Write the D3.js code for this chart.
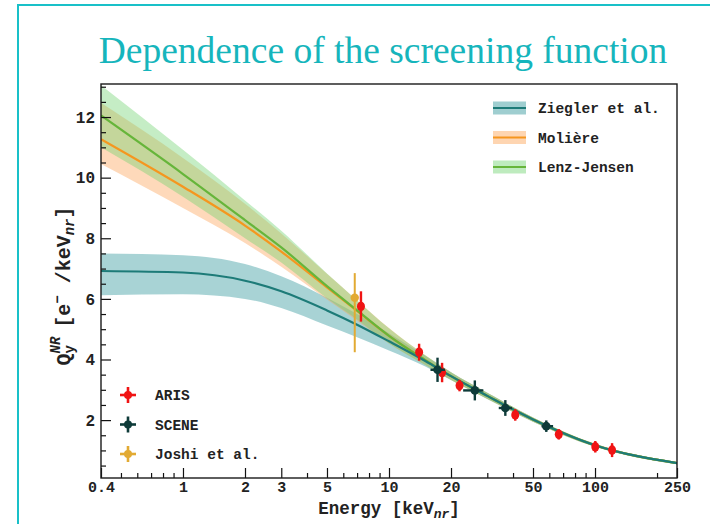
<!DOCTYPE html>
<html>
<head>
<meta charset="utf-8">
<script src="https://cdn.jsdelivr.net/npm/d3@7"></script>
<style>
  body { margin: 0; background: #fff; }
  svg { display: block; }
</style>
</head>
<body>
<svg id="chart" width="710" height="524"></svg>
<script>
// Model curves: nuclear-recoil ionization yield vs. energy, with uncertainty bands
const energies   = [0.4, 1, 2, 3, 5, 7, 10, 15, 20, 30, 50, 100, 250];
const zieglerMid = [6.92, 6.87, 6.6, 6.25, 5.62, 5.15, 4.6, 3.95, 3.45, 2.8, 2.02, 1.17, 0.58];
const zieglerLo  = [6.12, 6.15, 6.0, 5.70, 5.12, 4.73, 4.30, 3.77, 3.32, 2.70, 1.95, 1.12, 0.54];
const zieglerHi  = [7.50, 7.44, 7.15, 6.75, 6.04, 5.50, 4.87, 4.12, 3.58, 2.90, 2.09, 1.22, 0.62];
const moliereMid = [11.27, 9.7, 8.42, 7.56, 6.38, 5.6, 4.78, 3.98, 3.45, 2.8, 2.02, 1.17, 0.58];
const moliereLo  = [10.45, 9.0, 7.84, 7.06, 5.98, 5.28, 4.53, 3.82, 3.32, 2.70, 1.95, 1.12, 0.54];
const moliereHi  = [12.47, 10.65, 9.14, 8.16, 6.83, 5.95, 5.04, 4.14, 3.58, 2.90, 2.09, 1.22, 0.62];
const lenzMid    = [12.05, 10.12, 8.6, 7.7, 6.42, 5.62, 4.78, 3.98, 3.45, 2.8, 2.02, 1.17, 0.58];
const lenzLo     = [11.0, 9.37, 8.0, 7.2, 6.02, 5.32, 4.53, 3.82, 3.32, 2.70, 1.95, 1.12, 0.54];
const lenzHi     = [13.05, 10.92, 9.25, 8.25, 6.84, 5.95, 5.03, 4.14, 3.58, 2.90, 2.09, 1.22, 0.62];

// Measurements
const arisEnergy = [7.31, 14.0, 18.1, 22.0, 41.0, 66.7, 100.3, 121];
const arisValue  = [5.75, 4.24, 3.57, 3.14, 2.17, 1.53, 1.12, 1.01];
const arisError  = [0.5, 0.28, 0.32, 0.19, 0.19, 0.17, 0.19, 0.23];

const sceneEnergy   = [17.2, 26.1, 36.7, 58.0];
const sceneEnergyLo = [15.9, 22.9, 34.1, 55.0];
const sceneEnergyHi = [18.7, 28.7, 39.6, 62.6];
const sceneValue    = [3.66, 2.98, 2.40, 1.80];
const sceneError    = [0.4, 0.33, 0.26, 0.19];

const joshiEnergy  = [6.82];
const joshiValue   = [6.04];
const joshiValueLo = [4.24];
const joshiValueHi = [6.85];

// Axis ticks
const xMajor = [0.4, 1, 2, 3, 5, 10, 20, 50, 100, 250];
const xMinor = [0.5, 0.6, 0.7, 0.8, 0.9, 4, 6, 7, 8, 9, 30, 40, 60, 70, 80, 90, 200];
const yMajor = [2, 4, 6, 8, 10, 12];
const yMinor = [0.5, 1, 1.5, 2.5, 3, 3.5, 4.5, 5, 5.5, 6.5, 7, 7.5, 8.5, 9, 9.5, 10.5, 11, 11.5, 12.5, 13];

const modelNames = ["Ziegler et al.", "Molière", "Lenz-Jensen"];
const dataNames  = ["ARIS", "SCENE", "Joshi et al."];

const svg = d3.select("#chart");
const W = 710, H = 524;
const plot = { left: 101, right: 677, top: 84, bottom: 478 };

// Slide frame and title
svg.append("rect").attr("width", W).attr("height", H).attr("fill", "#fff");
svg.append("path")
  .attr("d", `M18,${H + 2} L18,5 L${W + 2},5`)
  .attr("fill", "none").attr("stroke", "#19c0c8").attr("stroke-width", 2);
svg.append("text")
  .attr("x", 383).attr("y", 63)
  .attr("text-anchor", "middle")
  .attr("font-family", "'Liberation Serif', 'Times New Roman', serif")
  .attr("font-size", 37.5)
  .attr("fill", "#16b5bc")
  .text("Dependence of the screening function");

const x = d3.scaleLog().domain([0.4, 250]).range([plot.left, plot.right]);
const y = d3.scaleLinear().domain([0.09, 13.09]).range([plot.bottom, plot.top]);

svg.append("defs").append("clipPath").attr("id", "plotClip")
  .append("rect").attr("x", plot.left).attr("y", plot.top)
  .attr("width", plot.right - plot.left).attr("height", plot.bottom - plot.top);

const g = svg.append("g").attr("clip-path", "url(#plotClip)");

function rows(mid, lo, hi) {
  return energies.map((e, i) => ({ e, m: mid[i], lo: lo[i], hi: hi[i] }));
}
const models = [
  { name: modelNames[0], data: rows(zieglerMid, zieglerLo, zieglerHi), line: "#1d7b78", band: "#3f9ea2", op: 0.45 },
  { name: modelNames[1], data: rows(moliereMid, moliereLo, moliereHi), line: "#f5961f", band: "#fca55a", op: 0.42 },
  { name: modelNames[2], data: rows(lenzMid, lenzLo, lenzHi), line: "#66b53a", band: "#6fd36f", op: 0.4 }
];

const area = d3.area().x(d => x(d.e)).y0(d => y(d.lo)).y1(d => y(d.hi)).curve(d3.curveMonotoneX);
const line = d3.line().x(d => x(d.e)).y(d => y(d.m)).curve(d3.curveMonotoneX);

models.forEach(m => {
  g.append("path").attr("d", area(m.data)).attr("fill", m.band).attr("fill-opacity", m.op);
});
[models[1], models[2], models[0]].forEach(m => {
  g.append("path").attr("d", line(m.data)).attr("fill", "none")
    .attr("stroke", m.line).attr("stroke-width", 2.2);
});

// Error bar markers
function vbar(sel, cx, y0, y1, color, w) {
  sel.append("line").attr("x1", cx).attr("x2", cx).attr("y1", y0).attr("y2", y1)
    .attr("stroke", color).attr("stroke-width", w);
}
function hbar(sel, cy, x0, x1, color, w) {
  sel.append("line").attr("x1", x0).attr("x2", x1).attr("y1", cy).attr("y2", cy)
    .attr("stroke", color).attr("stroke-width", w);
}

const joshiColor = "#e2aa33", arisColor = "#f01414", sceneColor = "#0e3b39";

joshiEnergy.forEach((e, i) => {
  vbar(g, x(e), y(joshiValueLo[i]), y(joshiValueHi[i]), joshiColor, 2);
  g.append("circle").attr("cx", x(e)).attr("cy", y(joshiValue[i])).attr("r", 4.2).attr("fill", joshiColor);
});
arisEnergy.forEach((e, i) => {
  vbar(g, x(e), y(arisValue[i] - arisError[i]), y(arisValue[i] + arisError[i]), arisColor, 2.4);
  g.append("ellipse").attr("cx", x(e)).attr("cy", y(arisValue[i])).attr("rx", 4).attr("ry", 4.8).attr("fill", arisColor);
});
sceneEnergy.forEach((e, i) => {
  vbar(g, x(e), y(sceneValue[i] - sceneError[i]), y(sceneValue[i] + sceneError[i]), sceneColor, 2.4);
  hbar(g, y(sceneValue[i]), x(sceneEnergyLo[i]), x(sceneEnergyHi[i]), sceneColor, 2.4);
  g.append("circle").attr("cx", x(e)).attr("cy", y(sceneValue[i])).attr("r", 4.3).attr("fill", sceneColor);
});

// Axes with inward ticks
const mono = "'Liberation Mono', 'DejaVu Sans Mono', monospace";

const xAxis = svg.append("g").attr("transform", `translate(0,${plot.bottom})`)
  .call(d3.axisBottom(x).tickValues(xMajor).tickSize(-10).tickPadding(3)
    .tickFormat((d, i) => xMajor[i] === 0.4 ? "0.4" : String(d)));
svg.append("g").attr("transform", `translate(0,${plot.bottom})`)
  .call(d3.axisBottom(x).tickValues(xMinor).tickSize(-5).tickFormat(""));
const yAxis = svg.append("g").attr("transform", `translate(${plot.left},0)`)
  .call(d3.axisLeft(y).tickValues(yMajor).tickSize(-10).tickPadding(6).tickFormat(d3.format("d")));
svg.append("g").attr("transform", `translate(${plot.left},0)`)
  .call(d3.axisLeft(y).tickValues(yMinor).tickSize(-5).tickFormat(""));

svg.selectAll(".domain").remove();
svg.selectAll(".tick line").attr("stroke", "#111").attr("stroke-width", 1.2);
xAxis.selectAll("text").attr("font-family", mono).attr("font-size", 15).attr("font-weight", "bold").attr("fill", "#222");
yAxis.selectAll("text").attr("font-family", mono).attr("font-size", 16).attr("font-weight", "bold").attr("fill", "#222");

svg.append("rect")
  .attr("x", plot.left).attr("y", plot.top)
  .attr("width", plot.right - plot.left).attr("height", plot.bottom - plot.top)
  .attr("fill", "none").attr("stroke", "#1a1a1a").attr("stroke-width", 1.4);

// Axis titles
const xt = svg.append("text").attr("x", (plot.left + plot.right) / 2).attr("y", 514)
  .attr("text-anchor", "middle").attr("font-family", mono).attr("font-weight", "bold")
  .attr("font-size", 17.5).attr("fill", "#222");
xt.append("tspan").text("Energy [keV");
xt.append("tspan").attr("font-size", 13).attr("font-style", "italic").attr("dy", 4).text("nr");
xt.append("tspan").attr("dy", -4).text("]");

const yt = svg.append("text")
  .attr("transform", `translate(70,${(plot.top + plot.bottom) / 2 + 5}) rotate(-90)`)
  .attr("text-anchor", "middle").attr("font-family", mono).attr("font-weight", "bold")
  .attr("font-size", 20).attr("fill", "#222");
yt.append("tspan").text("Q");
yt.append("tspan").attr("font-size", 14).attr("dy", 4).text("y");
yt.append("tspan").attr("font-size", 14).attr("font-style", "italic").attr("dx", -8.4).attr("dy", -14).text("NR");
yt.append("tspan").attr("dy", 10).attr("dx", 9).text("[e");
yt.append("tspan").attr("font-size", 14).attr("dy", -8).text("\u2212");
yt.append("tspan").attr("dy", 8).text(" /keV");
yt.append("tspan").attr("font-size", 14).attr("font-style", "italic").attr("dy", 4).text("nr");
yt.append("tspan").attr("dy", -4).text("]");

// Legend for models
const legTop = svg.append("g");
models.forEach((m, i) => {
  const cy = 108 + i * 29.5;
  legTop.append("rect").attr("x", 493).attr("y", cy - 6.5).attr("width", 33).attr("height", 13)
    .attr("fill", m.band).attr("fill-opacity", m.op + 0.05);
  legTop.append("line").attr("x1", 493).attr("x2", 526).attr("y1", cy).attr("y2", cy)
    .attr("stroke", m.line).attr("stroke-width", 2.2);
  legTop.append("text").attr("x", 538).attr("y", cy + 5)
    .attr("font-family", mono).attr("font-weight", "bold").attr("font-size", 14.5)
    .attr("fill", "#222").text(m.name);
});

// Legend for measurements
const legBot = svg.append("g");
const dataColors = [arisColor, sceneColor, joshiColor];
dataNames.forEach((n, i) => {
  const cy = 395 + i * 29.5, cx = 128;
  vbar(legBot, cx, cy - 8, cy + 8, dataColors[i], 2.6);
  hbar(legBot, cy, cx - 8, cx + 8, dataColors[i], 2.6);
  legBot.append("circle").attr("cx", cx).attr("cy", cy).attr("r", 4).attr("fill", dataColors[i]);
  legBot.append("text").attr("x", 155).attr("y", cy + 5)
    .attr("font-family", mono).attr("font-weight", "bold").attr("font-size", 14.5)
    .attr("fill", "#222").text(n);
});
</script>
</body>
</html>
